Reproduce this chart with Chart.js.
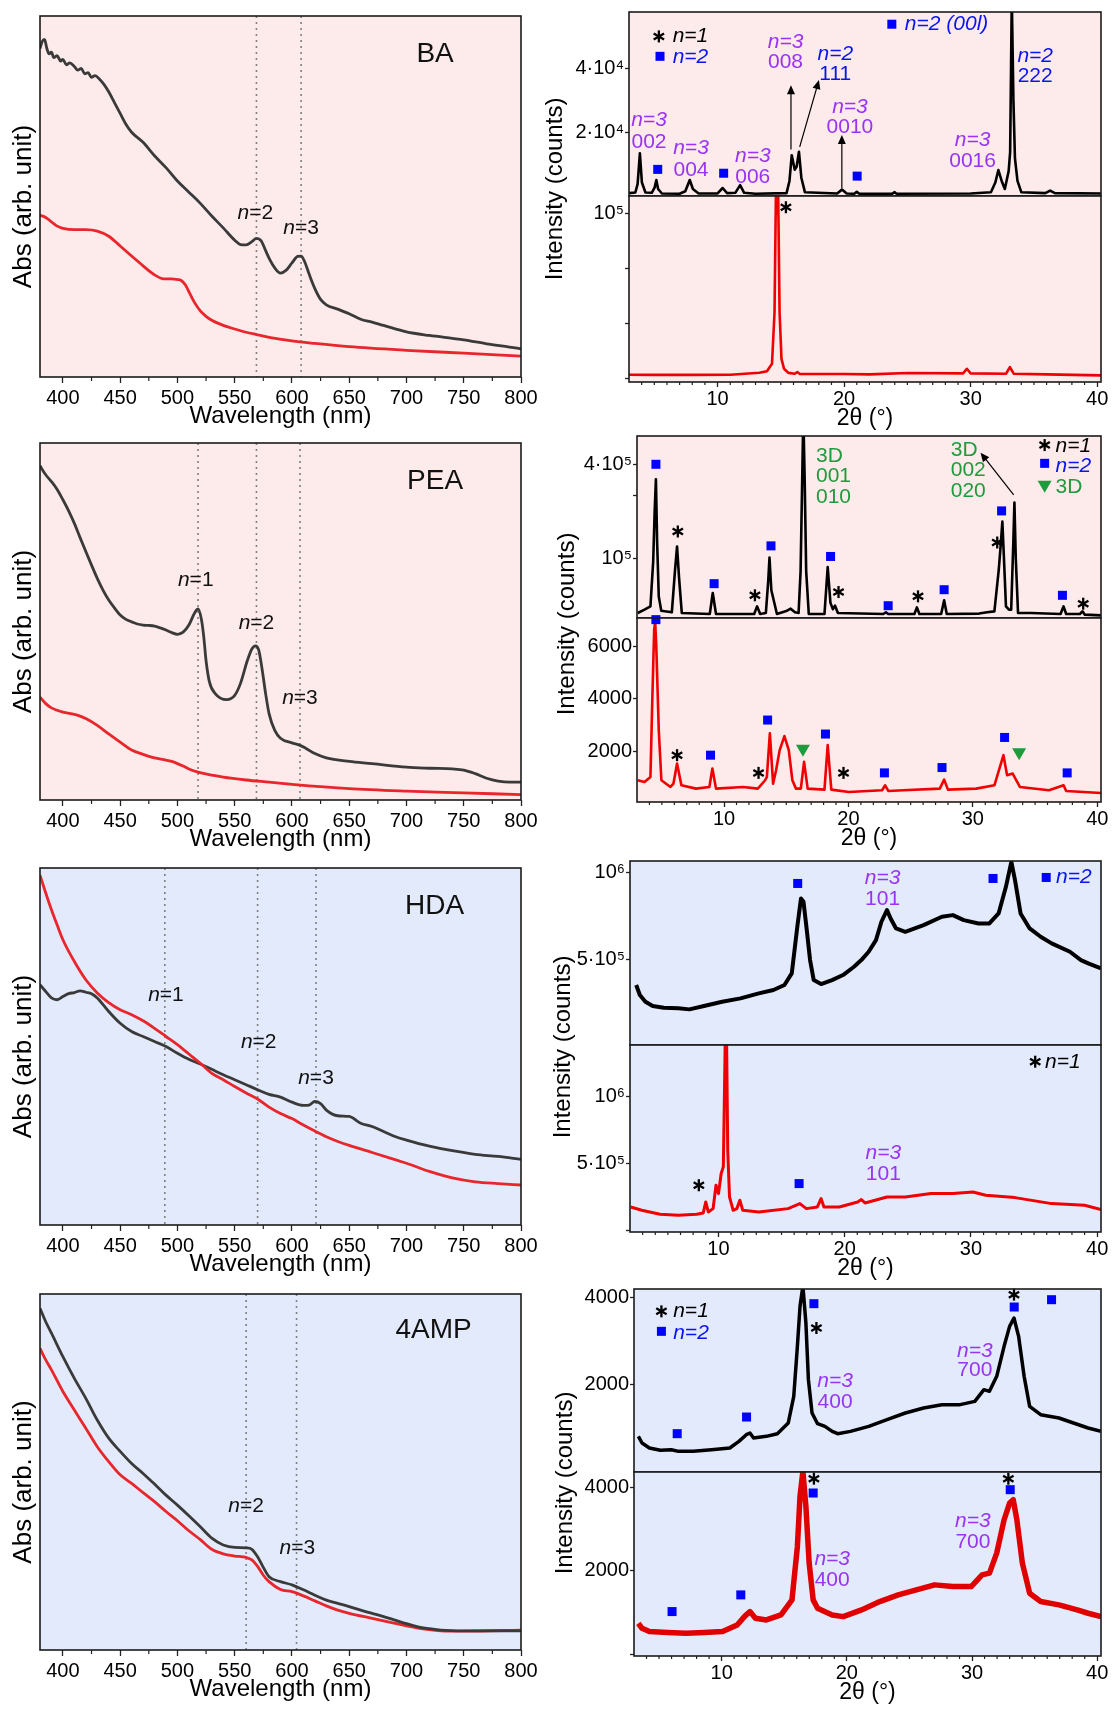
<!DOCTYPE html>
<html>
<head>
<meta charset="utf-8">
<title>UV-vis and XRD of BA, PEA, HDA and 4AMP perovskite films</title>
<script src="https://cdn.jsdelivr.net/npm/chart.js@4.4.1/dist/chart.umd.min.js"></script>
<style>
  html, body { margin: 0; padding: 0; background: #fff; }
  body { position: relative; width: 1112px; height: 1709px; overflow: hidden; }
  canvas { position: absolute; }
</style>
</head>
<body>
<script>
// ---------- tick values ----------
const uvTicks = [400, 450, 500, 550, 600, 650, 700, 750, 800];
const uvMinorTicks = [425, 475, 525, 575, 625, 675, 725, 775];
const xrdTicks = [10, 20, 30, 40];
const xrdMinorTicks = [4, 5, 6, 7, 8, 9, 11, 12, 13, 14, 15, 16, 17, 18, 19, 21, 22, 23, 24, 25, 26, 27, 28, 29, 31, 32, 33, 34, 35, 36, 37, 38, 39];

// ---------- UV-vis (wavelength nm, absorbance in arb. unit 0..100) ----------
const baUvDarkNm = [380,382,384,386,388,390,392,395,398,400,403,406,410,413,416,419,422,425,428,432,436,440,445,450,455,460,470,480,490,500,510,520,530,540,550,555,560,565,569,573,577,581,585,590,595,600,605,608,611,615,620,625,630,640,650,660,670,680,700,720,740,750,770,790,800];
const baUvDarkAbs = [91,93,93.5,91,89.5,90,88.5,89,87.5,88,86.5,87,86,85,85.5,84,84.3,83,83.5,82.5,81,79,76,73,70,67.8,65,61.3,58,54.3,51.2,48.1,44.6,41.3,37.9,36.7,36.6,37.5,38.4,37.8,35,32.3,30.2,28.8,29.6,31.6,33.4,33.5,32,28.5,24.5,21.5,20,18.8,17.5,16,15.2,14.3,12.5,11.5,10.7,10.3,9.2,8.3,7.8];
const baUvRedNm = [380,385,390,395,400,410,420,430,440,450,460,470,480,488,495,500,503,507,511,515,520,525,530,540,550,560,570,580,600,620,650,700,750,800];
const baUvRedAbs = [44.8,44.2,43,41.8,41.2,40.8,40.8,40.4,39,36.3,33.5,30.8,28.3,27.2,27.2,27,26.8,25.5,23,20.6,18.3,16.8,15.7,14.3,13.3,12.4,11.7,11,10,9.3,8.4,7.4,6.6,5.8];

const peaUvDarkNm = [380,385,390,395,400,405,410,415,420,425,430,435,440,445,450,455,460,465,470,475,480,485,490,495,500,505,510,515,518,521,523,525,528,533,543,550,555,561,565,568,571,574,577,580,585,590,600,607,612,620,630,650,670,700,720,740,750,760,770,780,790,800];
const peaUvDarkAbs = [93.6,91.1,89.2,87,84.1,81,77.5,73.5,69.6,65.8,62.1,58.8,56,53.8,51.8,50.6,49.9,49.3,49,48.9,48.7,48.2,47.6,46.9,46.4,47,49,52.4,53.5,50.5,45.7,39,33,29.8,28.1,29.3,32.6,39,42.3,43.2,42,36.5,29.8,24.2,19.5,17.3,16,15.3,14.5,13,11.8,10.8,10.2,9.2,8.9,8.7,8.4,7.4,6.1,5.3,5,5];
const peaUvRedNm = [380,385,390,400,410,415,420,430,440,450,460,470,480,490,495,500,505,510,518,530,540,560,580,600,650,700,750,800];
const peaUvRedAbs = [28.8,27,25.8,24.6,24,23.5,22.8,20.9,18.5,16.2,14,12.8,11.8,11.2,10.8,10.2,9.5,8.7,7.8,7,6.4,5.6,5,4.4,3.2,2.5,2,1.5];

const hdaUvDarkNm = [380,385,390,395,400,405,410,415,420,425,430,440,450,460,470,480,490,500,510,520,530,540,550,560,570,580,590,600,610,615,620,625,630,640,650,660,670,680,690,700,720,740,760,780,800];
const hdaUvDarkAbs = [67.3,65.4,63.6,63.1,64,64.8,65.1,65.6,65.2,64.8,63.6,59.8,56.5,54.2,52.8,51.4,50,48.1,46.4,45.1,43.6,42.1,40.7,39.3,37.9,36.6,35.8,34.4,33.5,33.6,34.6,34,32.2,30.6,30.4,28.5,27.6,26.2,24.8,23.8,22.1,20.8,19.8,19.2,18.4];
const hdaUvRedNm = [380,385,390,395,400,410,420,430,440,450,460,470,480,490,500,510,520,530,540,550,560,570,580,590,600,610,620,630,640,650,670,690,700,720,740,760,780,800];
const hdaUvRedAbs = [98,93,88.3,84,79.9,73.8,68.7,65,62.3,60.3,58.9,57.2,55.1,52.8,50.5,47.9,45.3,42.5,40.7,38.8,37,35.3,33,31.2,29.8,28,26.3,24.7,23.4,22.3,20.3,18.3,17.3,15,13.2,12.1,11.6,11.2];

const ampUvDarkNm = [380,385,390,400,410,420,430,440,450,460,470,480,490,500,510,520,530,540,550,560,565,570,575,580,590,600,610,620,630,640,650,660,670,680,690,700,710,720,730,750,800];
const ampUvDarkAbs = [96,92.2,89,82.4,76.3,70.7,64.6,59.5,55.8,52.4,49.6,46.6,43.5,40.7,37.7,34.6,31.4,29.5,28.8,28.7,28.3,26.2,23.2,20.6,19.2,18.3,16.9,15.4,14,13.1,12.2,11.2,10.3,9.4,8.4,7.4,6.5,6,5.6,5.4,5.4];
const ampUvRedNm = [380,385,390,400,410,420,430,440,450,460,470,480,490,500,510,520,530,540,550,560,565,570,575,580,590,600,610,620,630,640,650,670,690,700,720,730,750,800];
const ampUvRedAbs = [84.7,81.5,78.7,72.6,67.4,62.3,57.1,52.9,49.2,46.8,44.2,41.7,38.9,36.3,33.5,31,28.3,27,26.4,26,25.3,23.5,21,19.2,17,16.4,15.2,13.8,12.4,11.2,10.3,8.9,7.5,6.8,5.7,5.4,5.3,5.6];

// ---------- XRD (2theta deg, counts) ----------
const baXrdTopDeg = [3.0,3.5,3.68,3.86,4.02,4.3,4.8,5.03,5.16,5.3,5.6,7.0,7.45,7.8,8.05,8.5,10.0,10.4,10.75,11.4,11.78,12.1,13.0,15.45,15.68,15.86,16.1,16.25,16.43,16.62,16.9,19.45,19.83,20.2,20.8,21.0,21.2,23.8,23.97,24.15,30.0,31.6,31.95,32.19,32.45,32.7,33.0,33.12,33.25,33.38,33.5,33.7,34.0,35.9,36.28,36.65,40.3];
const baXrdTopCounts = [1200,1400,4000,13600,4500,1400,1300,3000,5300,2500,1100,1000,1800,5300,2500,1100,1100,2800,1200,1300,3700,1300,1000,1200,5000,13000,8500,9500,14100,6000,1500,1100,2300,1100,1000,1600,1000,1000,1500,1000,1100,1500,4500,8400,5000,2500,8000,14000,62000,30000,12000,5000,1500,1200,2000,1200,1100];
const baXrdBotDeg = [3.0,5.0,8.0,11.0,13.3,13.9,14.3,14.5,14.62,14.7,14.78,14.9,15.05,15.25,15.6,16.1,16.3,16.5,20.0,22.0,25.0,29.4,29.7,30.0,32.8,33.1,33.4,36.0,40.3];
const baXrdBotCounts = [2400,2300,2300,2400,3600,4500,9000,40000,118000,100000,118000,40000,12000,6000,3500,3000,4000,2800,2800,2600,3400,3200,6000,3200,3000,7000,3000,2600,2000];

const peaXrdTopDeg = [3.06,3.6,4.08,4.3,4.42,4.52,4.62,4.75,4.95,5.8,6.05,6.22,6.38,6.6,8.85,9.09,9.35,12.42,12.65,12.9,13.36,13.55,13.65,13.8,14.25,15.0,15.35,15.7,15.99,16.15,16.28,16.37,16.48,16.6,16.81,18.07,18.33,18.55,18.75,18.92,19.15,22.8,23.01,23.2,25.3,25.5,25.7,27.45,27.69,27.9,30.5,31.14,31.73,32.08,32.25,32.37,32.5,32.66,32.9,33.08,33.25,33.34,33.45,33.63,34.66,37.05,37.29,37.5,38.6,38.81,39.0,40.3];
const peaXrdTopCounts = [-72000,-61600,-51000,90000,250000,352500,150000,-20000,-65000,-70000,60000,139100,40000,-72000,-75300,-8800,-75300,-75300,-51000,-75300,-72000,30000,104200,0,-75300,-66000,-58400,-70000,-72000,60000,350000,560000,350000,60000,-75300,-75300,73600,-40000,-60000,-48900,-72000,-75300,-70000,-75300,-75300,-54200,-75300,-75300,-32000,-75300,-74000,-70000,-66900,65100,150000,218300,100000,-51000,-61600,-61600,150000,278500,100000,-72000,-72000,-75300,-51000,-75300,-75300,-66900,-77400,-79600];
const peaXrdBotDeg = [3.06,3.6,4.08,4.23,4.38,4.46,4.55,4.75,4.96,5.69,5.93,6.22,6.57,7.74,8.82,9.06,9.35,11.54,12.71,13.3,13.44,13.68,13.94,14.18,14.47,14.85,15.2,15.49,15.78,16.17,16.43,16.72,18.07,18.33,18.62,20.03,22.7,22.95,23.2,24.41,27.34,27.69,28.0,30.27,31.73,32.46,32.75,33.2,33.78,36.12,37.29,37.5,40.3];
const peaXrdBotCounts = [895,831,1022,3962,6646,6965,6007,2812,895,639,767,1534,703,575,639,1342,575,639,575,895,1022,2684,767,1278,2045,2582,2045,895,575,575,1598,575,537,2237,537,447,511,703,486,511,575,920,537,575,703,1853,1086,1150,639,511,703,486,409];

const hdaXrdTopDeg = [3.49,3.78,4.22,4.8,5.67,6.83,7.7,8.86,10.3,11.75,13.2,14.36,15.23,15.81,16.25,16.54,16.74,16.97,17.26,17.55,18.13,19.0,19.87,20.74,21.32,21.9,22.48,22.91,23.35,23.64,24.07,24.8,26.25,27.7,28.57,29.43,30.6,31.46,32.19,32.77,33.2,33.49,33.93,34.65,35.52,36.39,37.84,38.71,39.29,40.3];
const hdaXrdTopCounts = [352500,295000,256700,231800,222200,218400,212600,231800,256700,275900,304600,323700,352500,419500,687700,850500,831400,687700,496200,381200,358200,381200,410000,457900,496200,544000,611100,716500,783500,735600,678200,659000,697300,745200,754800,726000,706900,706900,764400,917600,1061300,955900,764400,678200,630300,592000,544000,496200,477000,448300];
const hdaXrdBotDeg = [3.06,3.93,5.38,6.83,8.28,8.8,9.0,9.2,9.58,9.81,10.01,10.22,10.39,10.48,10.54,10.65,10.74,10.88,11.17,11.46,11.7,11.93,13.2,15.52,16.45,16.97,17.84,18.13,18.36,19.58,21.03,21.32,21.61,23.35,24.8,26.83,28.57,30.16,31.17,33.49,36.39,39.0,40.3];
const hdaXrdBotCounts = [175000,150000,120000,112500,120000,130000,212500,137500,162500,337500,275000,425000,475000,1025000,1425000,1425000,600000,250000,150000,162500,225000,150000,137500,162500,200000,162500,175000,237500,175000,175000,212500,230000,205000,250000,250000,275000,275000,287500,262500,245000,200000,187500,155000];

const ampXrdTopDeg = [3.35,3.64,4.23,5.1,5.98,6.56,7.73,9.19,10.65,11.38,11.97,12.26,12.55,13.57,14.45,15.32,15.76,16.05,16.26,16.49,16.73,16.93,17.22,17.66,18.25,18.83,19.27,20.29,21.75,23.21,24.67,26.13,27.59,29.05,30.22,30.95,31.39,31.97,32.56,33.0,33.35,33.72,34.16,34.6,35.48,36.94,38.1,39.27,40.3];
const ampXrdTopCounts = [821,669,555,502,517,479,479,517,555,707,859,897,783,821,882,1126,1734,2875,3787,4250,3407,2114,1354,1110,1049,935,882,935,1049,1202,1354,1468,1544,1544,1620,1886,1848,2190,2875,3331,3521,3103,2190,1506,1316,1240,1126,1011,935];
const ampXrdBotDeg = [3.35,3.64,4.23,5.69,7.15,8.61,10.07,11.24,11.82,12.26,12.7,13.57,14.74,15.62,16.05,16.26,16.49,16.73,16.99,17.31,17.66,18.83,19.71,21.17,22.63,24.1,25.55,27.01,28.47,29.93,30.8,31.39,31.97,32.56,33.0,33.29,33.58,34.02,34.6,35.48,36.94,38.4,39.27,40.3];
const ampXrdBotCounts = [749,629,550,526,510,526,550,709,908,1028,869,829,948,1307,2582,3777,4374,3538,2183,1307,1108,948,908,1068,1267,1426,1546,1665,1625,1625,1904,1944,2422,3219,3617,3697,3219,2183,1466,1267,1187,1068,988,908];

// ---------- styles ----------
const FONT = '"Liberation Sans", Arial, Helvetica, sans-serif';
const PINK_BG = '#fdeaea', BLUE_BG = '#e2eafb';
const UV_DARK = '#3a3a3a', UV_RED = '#e8262b';
const XRD_BLACK = '#000000', XRD_RED = '#f00000';
const PURPLE = '#9933f5', BLUE = '#0a14f0', GREEN = '#1e9b3c';

Chart.defaults.font.family = FONT;
Chart.defaults.color = '#000';

// ---------- annotation helpers ----------
const sq = (x, y) => ({ k: 'sq', x, y });
const st = (x, y) => ({ k: 'star', x, y });
const tr = (x, y) => ({ k: 'tri', x, y });
const tx = (x, y, s, c, it, al) => ({ k: 'tx', x, y, s, c, it: !!it, al: al || 'center' });
const ar = (x1, y1, x2, y2) => ({ k: 'ar', x1, y1, x2, y2 });
const nl = (x, y, rest) => ({ k: 'nl', x, y, rest });
const nm = (x, y, s) => ({ k: 'nm', x, y, s });

const decoByCanvas = new WeakMap();

function drawParts(ctx, x, y, parts, size, color, align) {
  let w = 0;
  const widths = parts.map(p => {
    ctx.font = (p[1] ? 'italic ' : '') + size + 'px ' + FONT;
    const pw = ctx.measureText(p[0]).width;
    w += pw;
    return pw;
  });
  let cx = align === 'left' ? x : x - w / 2;
  ctx.fillStyle = color;
  ctx.textBaseline = 'middle';
  ctx.textAlign = 'left';
  parts.forEach((p, i) => {
    ctx.font = (p[1] ? 'italic ' : '') + size + 'px ' + FONT;
    ctx.fillText(p[0], cx, y);
    cx += widths[i];
  });
}

function drawMark(ctx, k, px, py) {
  if (k === 'sq') {
    ctx.fillStyle = '#0000ff';
    ctx.fillRect(px - 4.5, py - 4.5, 9, 9);
  } else if (k === 'tri') {
    ctx.fillStyle = GREEN;
    ctx.beginPath();
    ctx.moveTo(px - 7, py - 6);
    ctx.lineTo(px + 7, py - 6);
    ctx.lineTo(px, py + 6);
    ctx.closePath();
    ctx.fill();
  } else if (k === 'star') {
    ctx.strokeStyle = '#000';
    ctx.lineWidth = 2.3;
    for (let j = 0; j < 3; j++) {
      const a = Math.PI / 2 + j * Math.PI / 3;
      const dx = Math.cos(a) * 6, dy = Math.sin(a) * 6;
      ctx.beginPath();
      ctx.moveTo(px - dx, py - dy);
      ctx.lineTo(px + dx, py + dy);
      ctx.stroke();
    }
  }
}

Chart.register({
  id: 'deco',
  beforeDraw(chart) {
    const d = decoByCanvas.get(chart.canvas);
    if (!d) return;
    const a = chart.chartArea, ctx = chart.ctx, xs = chart.scales.x;
    ctx.save();
    ctx.fillStyle = d.bg;
    ctx.fillRect(a.left, a.top, a.right - a.left, a.bottom - a.top);
    if (d.vlines) {
      ctx.strokeStyle = '#808080';
      ctx.lineWidth = 1.6;
      ctx.setLineDash([2, 4]);
      d.vlines.forEach(v => {
        const px = xs.getPixelForValue(v);
        ctx.beginPath();
        ctx.moveTo(px, a.top);
        ctx.lineTo(px, a.bottom);
        ctx.stroke();
      });
    }
    ctx.restore();
  },
  afterDatasetsDraw(chart) {
    const d = decoByCanvas.get(chart.canvas);
    if (!d || !d.notes) return;
    const ctx = chart.ctx, xs = chart.scales.x, ys = chart.scales.y;
    ctx.save();
    d.notes.forEach(n => {
      if (n.k === 'ar') {
        const x1 = xs.getPixelForValue(n.x1), y1 = ys.getPixelForValue(n.y1);
        const x2 = xs.getPixelForValue(n.x2), y2 = ys.getPixelForValue(n.y2);
        const ang = Math.atan2(y2 - y1, x2 - x1), c = Math.cos(ang), s = Math.sin(ang);
        ctx.strokeStyle = '#000';
        ctx.fillStyle = '#000';
        ctx.lineWidth = 1.2;
        ctx.beginPath();
        ctx.moveTo(x1, y1);
        ctx.lineTo(x2 - 6 * c, y2 - 6 * s);
        ctx.stroke();
        ctx.beginPath();
        ctx.moveTo(x2, y2);
        ctx.lineTo(x2 - 9 * c + 4 * s, y2 - 9 * s - 4 * c);
        ctx.lineTo(x2 - 9 * c - 4 * s, y2 - 9 * s + 4 * c);
        ctx.closePath();
        ctx.fill();
        return;
      }
      const px = xs.getPixelForValue(n.x), py = ys.getPixelForValue(n.y);
      if (n.k === 'tx') drawParts(ctx, px, py, [[n.s, n.it]], 21, n.c, n.al);
      else if (n.k === 'nl') drawParts(ctx, px, py, [['n', true], [n.rest, false]], 21, '#111', 'center');
      else if (n.k === 'nm') drawParts(ctx, px, py, [[n.s, false]], 28, '#111', 'center');
      else drawMark(ctx, n.k, px, py);
    });
    ctx.restore();
  },
  afterDraw(chart) {
    const d = decoByCanvas.get(chart.canvas);
    if (!d) return;
    const a = chart.chartArea, ctx = chart.ctx, xs = chart.scales.x;
    ctx.save();
    ctx.strokeStyle = '#1b1b1b';
    ctx.lineWidth = 1.6;
    ctx.strokeRect(a.left, a.top, a.right - a.left, a.bottom - a.top);
    if (d.minor) {
      ctx.lineWidth = 1.2;
      ctx.strokeStyle = '#222';
      d.minor.forEach(v => {
        const px = xs.getPixelForValue(v);
        ctx.beginPath();
        ctx.moveTo(px, a.bottom);
        ctx.lineTo(px, a.bottom + d.minorLen);
        ctx.stroke();
      });
    }
    if (d.xTitle) {
      ctx.font = d.xTitle.size + 'px ' + FONT;
      ctx.fillStyle = '#000';
      ctx.textAlign = 'center';
      ctx.textBaseline = 'middle';
      ctx.fillText(d.xTitle.text, (a.left + a.right) / 2, a.bottom + d.xTitle.dy);
    }
    if (d.yTitle) {
      ctx.translate(d.yTitle.x, d.yTitle.y);
      ctx.rotate(-Math.PI / 2);
      ctx.font = d.yTitle.size + 'px ' + FONT;
      ctx.fillStyle = '#000';
      ctx.textAlign = 'center';
      ctx.textBaseline = 'middle';
      ctx.fillText(d.yTitle.text, 0, 0);
    }
    ctx.restore();
  }
});

// ---------- chart builders ----------
function newCanvas(left, top, w, h) {
  const cv = document.createElement('canvas');
  cv.width = w;
  cv.height = h;
  cv.style.left = left + 'px';
  cv.style.top = top + 'px';
  cv.style.width = w + 'px';
  cv.style.height = h + 'px';
  document.body.appendChild(cv);
  return cv;
}

function line(xs, ys, color, width, smooth) {
  return {
    data: xs.map((x, i) => ({ x: x, y: ys[i] })),
    borderColor: color,
    borderWidth: width,
    pointRadius: 0,
    tension: 0,
    cubicInterpolationMode: smooth ? 'monotone' : 'default',
    borderJoinStyle: 'round',
    fill: false
  };
}

function fixedTicks(values) {
  return s => { s.ticks = values.map(v => ({ value: v })); };
}

function options(padding, scales) {
  return {
    responsive: false, maintainAspectRatio: false, animation: false, devicePixelRatio: 1, events: [],
    layout: { padding: padding },
    plugins: { legend: { display: false }, tooltip: { enabled: false } },
    scales: scales
  };
}

const grid = len => ({ display: true, drawOnChartArea: false, drawTicks: true, tickLength: len, tickWidth: 1.3, tickColor: '#222' });

function uvPanel(box, datasets, vlines, notes, bg) {
  const padT = 12, padR = 32, padB = 62;
  const top = box.T - padT;
  const cv = newCanvas(0, top, box.R + padR, box.B - box.T + padT + padB);
  decoByCanvas.set(cv, {
    bg: bg, vlines: vlines, notes: notes, minor: uvMinorTicks, minorLen: 4,
    xTitle: { text: 'Wavelength (nm)', dy: 39, size: 24 },
    yTitle: { text: 'Abs (arb. unit)', x: 24, y: (box.T + box.B) / 2 + 10 - top, size: 26 }
  });
  new Chart(cv, {
    type: 'line',
    data: { datasets: datasets },
    options: options({ left: box.L, top: padT, right: padR, bottom: 0 }, {
      x: {
        type: 'linear', min: 380, max: 800,
        afterBuildTicks: fixedTicks(uvTicks),
        afterFit: s => { s.height = padB; s.paddingLeft = 0; s.paddingRight = 0; },
        ticks: { font: { size: 20 }, padding: 3, maxRotation: 0, autoSkip: false, callback: v => String(v) },
        grid: grid(6), border: { display: false }
      },
      y: { type: 'linear', min: 0, max: 100, display: false }
    })
  });
}

function yScale(sub, padL) {
  return {
    type: 'linear', min: sub.min, max: sub.max,
    afterBuildTicks: fixedTicks(sub.ticks),
    afterFit: s => { s.width = padL; s.paddingTop = 0; s.paddingBottom = 0; },
    ticks: {
      font: { size: 20 }, padding: 1,
      callback: v => { const e = sub.labels.find(l => Math.abs(l[0] - v) < 1e-6); return e ? e[1] : ''; }
    },
    grid: grid(4), border: { display: false }
  };
}

function xrdPanel(box, upper, lower, bg) {
  const padL = 95, padT = 14, padR = 11, padB = 58, R = 1101;
  const left = box.L - padL, w = (R - box.L) + padL + padR;
  // upper (thin film) pattern
  const topA = box.T - padT;
  const cv1 = newCanvas(left, topA, w, (box.B + padB) - topA);
  decoByCanvas.set(cv1, {
    bg: bg, notes: upper.notes,
    yTitle: { text: 'Intensity (counts)', x: padL + box.tdx, y: box.ty - topA, size: 24 }
  });
  new Chart(cv1, {
    type: 'line',
    data: { datasets: upper.datasets },
    options: options({ left: 0, top: padT, right: padR, bottom: (box.B + padB) - box.D }, {
      x: { type: 'linear', min: 3, max: 40.3, display: false },
      y: yScale(upper, padL)
    })
  });
  // lower pattern with the shared 2theta axis
  const topB = box.D - padT;
  const cv2 = newCanvas(left, topB, w, (box.B - box.D) + padT + padB);
  decoByCanvas.set(cv2, {
    bg: bg, notes: lower.notes, minor: xrdMinorTicks, minorLen: 3,
    xTitle: { text: '2θ (°)', dy: 37, size: 23 }
  });
  new Chart(cv2, {
    type: 'line',
    data: { datasets: lower.datasets },
    options: options({ left: 0, top: padT, right: padR, bottom: 0 }, {
      x: {
        type: 'linear', min: 3, max: 40.3,
        afterBuildTicks: fixedTicks(xrdTicks),
        afterFit: s => { s.height = padB; s.paddingLeft = 0; s.paddingRight = 0; },
        ticks: { font: { size: 20 }, padding: 0, maxRotation: 0, autoSkip: false, callback: v => String(v) },
        grid: grid(5), border: { display: false }
      },
      y: yScale(lower, padL)
    })
  });
}

// ---------- UV-vis panels ----------
uvPanel({ L: 40, T: 16, R: 521, B: 377 },
  [line(baUvDarkNm, baUvDarkAbs, UV_DARK, 2.8, true), line(baUvRedNm, baUvRedAbs, UV_RED, 2.8, true)],
  [569, 608],
  [nl(568, 45.5, '=2'), nl(608, 41.3, '=3'), nm(725, 89.3, 'BA')], PINK_BG);

uvPanel({ L: 40, T: 443, R: 521, B: 800 },
  [line(peaUvDarkNm, peaUvDarkAbs, UV_DARK, 2.8, true), line(peaUvRedNm, peaUvRedAbs, UV_RED, 2.8, true)],
  [518, 569, 607],
  [nl(516, 61.6, '=1'), nl(569, 49.6, '=2'), nl(607, 28.4, '=3'), nm(725, 89.2, 'PEA')], PINK_BG);

uvPanel({ L: 40, T: 868, R: 521, B: 1225 },
  [line(hdaUvRedNm, hdaUvRedAbs, UV_RED, 2.8, true), line(hdaUvDarkNm, hdaUvDarkAbs, UV_DARK, 2.8, true)],
  [489, 570, 621],
  [nl(490, 64.5, '=1'), nl(571, 51.1, '=2'), nl(621, 41.1, '=3'), nm(724.5, 89.3, 'HDA')], BLUE_BG);

uvPanel({ L: 40, T: 1294, R: 521, B: 1650 },
  [line(ampUvDarkNm, ampUvDarkAbs, UV_DARK, 2.8, true), line(ampUvRedNm, ampUvRedAbs, UV_RED, 2.8, true)],
  [560, 604],
  [nl(560, 40.3, '=2'), nl(604.7, 28.6, '=3'), nm(723.6, 89.9, '4AMP')], BLUE_BG);

// ---------- XRD panels ----------
xrdPanel({ L: 629, T: 12, D: 196, B: 382, tdx: -74, ty: 189 }, {
  datasets: [line(baXrdTopDeg, baXrdTopCounts, XRD_BLACK, 2.6)],
  min: 311, max: 57600, ticks: [20000, 40000], labels: [[20000, '2·10⁴'], [40000, '4·10⁴']],
  notes: [
    st(5.36, 50000), tx(6.45, 50000, 'n=1', '#000', true, 'left'),
    sq(5.45, 43800), tx(6.45, 43400, 'n=2', BLUE, true, 'left'),
    sq(23.77, 53800), tx(24.8, 53800, 'n=2 (00l)', BLUE, true, 'left'),
    tx(4.58, 23900, 'n=3', PURPLE, true), tx(4.58, 17200, '002', PURPLE),
    sq(5.27, 8600),
    tx(7.9, 15100, 'n=3', PURPLE, true), tx(7.9, 8400, '004', PURPLE),
    sq(10.48, 7400),
    tx(12.78, 12700, 'n=3', PURPLE, true), tx(12.78, 6300, '006', PURPLE),
    tx(15.37, 48300, 'n=3', PURPLE, true), tx(15.37, 42100, '008', PURPLE),
    tx(19.3, 44400, 'n=2', BLUE, true), tx(19.3, 38200, '111', BLUE),
    ar(15.8, 14800, 15.8, 34800), ar(16.49, 15600, 18.01, 36400), ar(19.82, 2700, 19.82, 19300),
    tx(20.46, 28100, 'n=3', PURPLE, true), tx(20.46, 21700, '0010', PURPLE),
    sq(21.03, 6500),
    tx(30.15, 17700, 'n=3', PURPLE, true), tx(30.15, 11300, '0016', PURPLE),
    tx(35.1, 43900, 'n=2', BLUE, true), tx(35.1, 37600, '222', BLUE)
  ]
}, {
  datasets: [line(baXrdBotDeg, baXrdBotCounts, XRD_RED, 2.6)],
  min: -2000, max: 110400, ticks: [0, 33333.33, 66666.67, 100000], labels: [[100000, '10⁵']],
  notes: [st(15.4, 103600)]
}, PINK_BG);

xrdPanel({ L: 637, T: 436, D: 618, B: 802, tdx: -70, ty: 624 }, {
  datasets: [line(peaXrdTopDeg, peaXrdTopCounts, XRD_BLACK, 2.6)],
  min: -88000, max: 489800, ticks: [100000, 300000, 400000], labels: [[100000, '10⁵'], [400000, '4·10⁵']],
  notes: [
    sq(4.52, 400000), st(6.28, 186600), sq(9.2, 21000), st(12.48, -16000), sq(13.77, 141000),
    sq(18.56, 107400), st(19.2, -5600), sq(23.19, -49000), st(25.59, -19300), sq(27.69, 1800),
    st(31.96, 151700), sq(32.31, 252000), sq(37.2, -16000), st(38.87, -42600),
    tx(17.39, 426400, '3D', GREEN, false, 'left'), tx(17.39, 361000, '001', GREEN, false, 'left'), tx(17.39, 295400, '010', GREEN, false, 'left'),
    tx(28.22, 445400, '3D', GREEN, false, 'left'), tx(28.22, 380000, '002', GREEN, false, 'left'), tx(28.22, 313400, '020', GREEN, false, 'left'),
    ar(33.28, 302800, 30.62, 437000),
    st(35.77, 461000), tx(36.64, 456000, 'n=1', '#000', true, 'left'),
    sq(35.77, 403000), tx(36.64, 392600, 'n=2', BLUE, true, 'left'),
    tr(35.77, 329000), tx(36.64, 327000, '3D', GREEN, false, 'left')
  ]
}, {
  datasets: [line(peaXrdBotDeg, peaXrdBotCounts, XRD_RED, 2.6)],
  min: 64, max: 7093, ticks: [2000, 4000, 6000], labels: [[2000, '2000'], [4000, '4000'], [6000, '6000']],
  notes: [
    sq(4.52, 7030), st(6.22, 1853), sq(8.91, 1853), st(12.77, 1176), sq(13.5, 3195), tr(16.34, 2020),
    sq(18.15, 2660), st(19.6, 1176), sq(22.89, 1176), sq(27.52, 1380), sq(32.55, 2530), tr(33.72, 1890), sq(37.58, 1176)
  ]
}, PINK_BG);

xrdPanel({ L: 630, T: 861, D: 1045, B: 1232, tdx: -67, ty: 1047 }, {
  datasets: [line(hdaXrdTopDeg, hdaXrdTopCounts, XRD_BLACK, 4)],
  min: 7663, max: 1066000, ticks: [500000, 1000000], labels: [[500000, '5·10⁵'], [1000000, '10⁶']],
  notes: [
    sq(16.28, 936800), tx(23.0, 965500, 'n=3', PURPLE, true), tx(23.0, 844800, '101', PURPLE),
    sq(31.75, 965500), sq(35.96, 971300), tx(36.74, 971300, 'n=2', BLUE, true, 'left')
  ]
}, {
  datasets: [line(hdaXrdBotDeg, hdaXrdBotCounts, XRD_RED, 3)],
  min: -12500, max: 1387500, ticks: [0, 500000, 1000000], labels: [[500000, '5·10⁵'], [1000000, '10⁶']],
  notes: [
    st(35.09, 1262500), tx(35.87, 1262500, 'n=1', '#000', true, 'left'),
    st(8.45, 337500), sq(16.39, 350000),
    tx(23.06, 575000, 'n=3', PURPLE, true), tx(23.06, 420000, '101', PURPLE)
  ]
}, BLUE_BG);

xrdPanel({ L: 634, T: 1289, D: 1472, B: 1656, tdx: -69, ty: 1483 }, {
  datasets: [line(ampXrdTopDeg, ampXrdTopCounts, XRD_BLACK, 3.5)],
  min: 7.6, max: 4183, ticks: [2000, 4000], labels: [[2000, '2000'], [4000, '4000']],
  notes: [
    st(5.19, 3673), tx(6.13, 3673, 'n=1', '#000', true, 'left'),
    sq(5.19, 3217), tx(6.13, 3170, 'n=2', BLUE, true, 'left'),
    sq(17.37, 3848), st(17.57, 3293), sq(6.45, 882), sq(11.99, 1262),
    tx(19.06, 2076, 'n=3', PURPLE, true), tx(19.06, 1597, '400', PURPLE),
    tx(30.22, 2776, 'n=3', PURPLE, true), tx(30.22, 2327, '700', PURPLE),
    st(33.35, 4054), sq(33.37, 3772), sq(36.35, 3939)
  ]
}, {
  datasets: [line(ampXrdBotDeg, ampXrdBotCounts, '#e00000', 5.5)],
  min: -32, max: 4358, ticks: [0, 2000, 4000], labels: [[2000, '2000'], [4000, '4000']],
  notes: [
    st(17.37, 4199), sq(17.31, 3857), sq(6.04, 1028), sq(11.53, 1426),
    tx(18.83, 2279, 'n=3', PURPLE, true), tx(18.83, 1785, '400', PURPLE),
    tx(30.07, 3179, 'n=3', PURPLE, true), tx(30.07, 2677, '700', PURPLE),
    st(32.9, 4199), sq(33.05, 3936)
  ]
}, BLUE_BG);
</script>
</body>
</html>
